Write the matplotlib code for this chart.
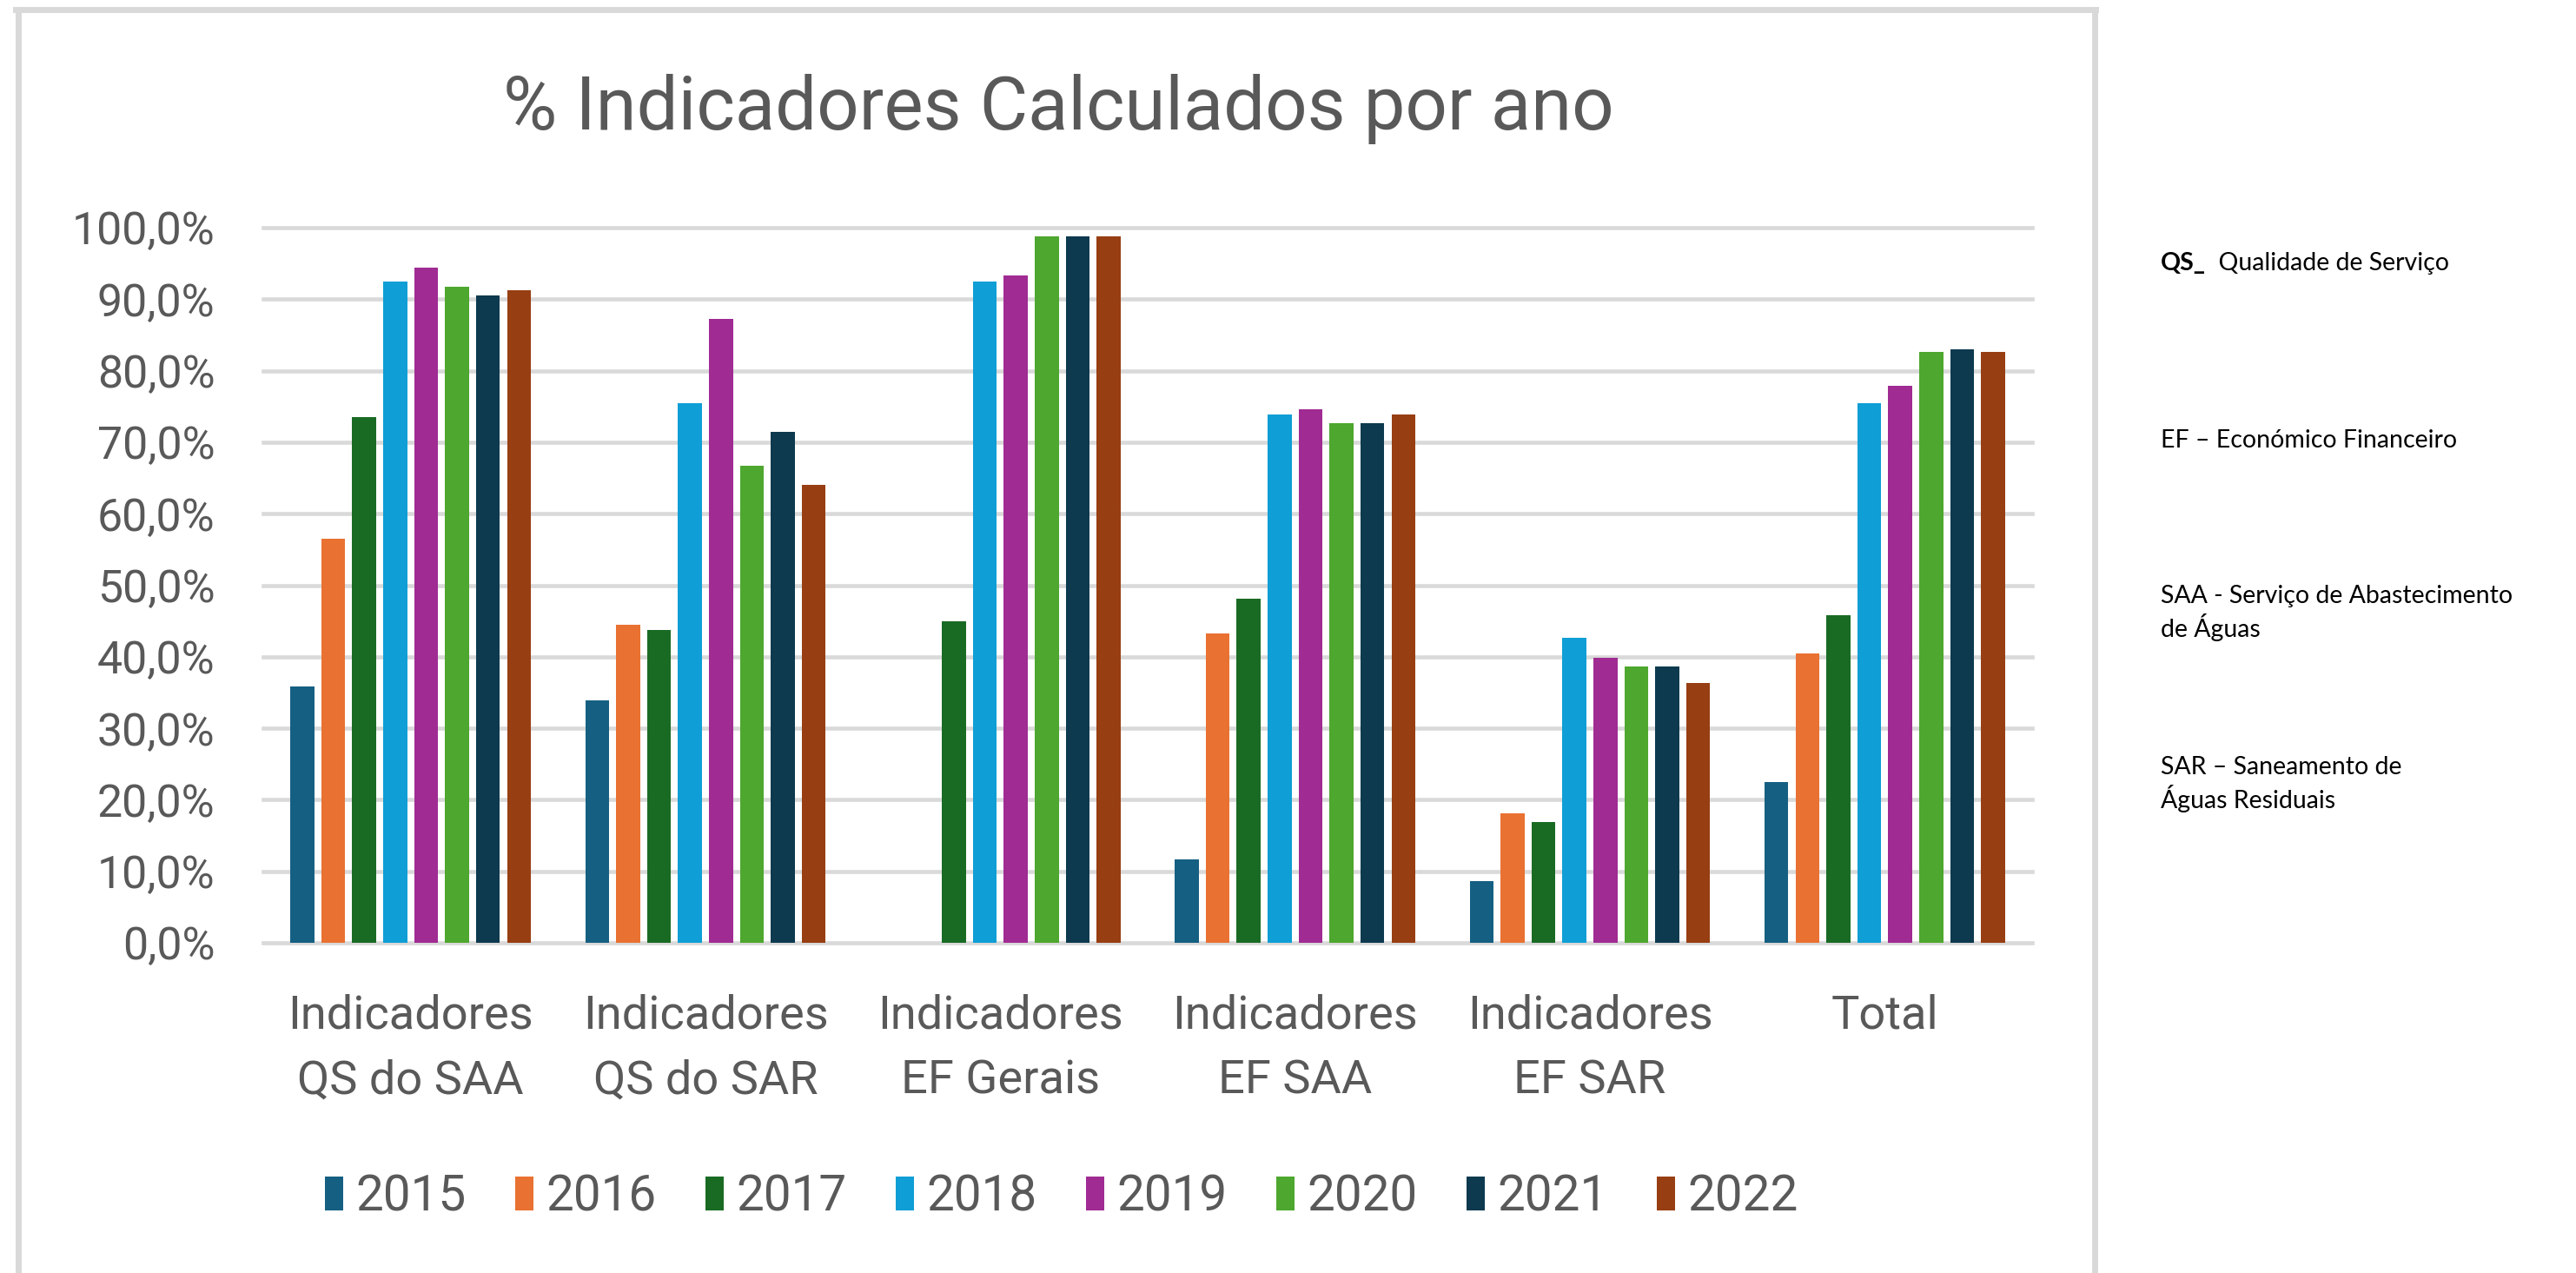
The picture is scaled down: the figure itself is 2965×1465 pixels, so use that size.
import matplotlib
matplotlib.use('Agg')
import matplotlib.pyplot as plt
from matplotlib import font_manager
from matplotlib.patches import Patch
from matplotlib.lines import Line2D
from matplotlib.ticker import FuncFormatter
import numpy as np

categories = ['Indicadores\nQS do SAA', 'Indicadores\nQS do SAR', 'Indicadores\nEF Gerais',
              'Indicadores\nEF SAA', 'Indicadores\nEF SAR', 'Total']
years = ['2015', '2016', '2017', '2018', '2019', '2020', '2021', '2022']

v2015 = [35.8, 33.9, 0.0, 11.7, 8.6, 22.5]
v2016 = [56.5, 44.5, 0.0, 43.3, 18.1, 40.5]
v2017 = [73.5, 43.7, 44.9, 48.1, 16.9, 45.8]
v2018 = [92.5, 75.5, 92.5, 73.9, 42.6, 75.5]
v2019 = [94.4, 87.3, 93.3, 74.6, 39.8, 77.9]
v2020 = [91.7, 66.7, 98.8, 72.7, 38.6, 82.6]
v2021 = [90.5, 71.4, 98.8, 72.7, 38.6, 83.0]
v2022 = [91.3, 64.0, 98.8, 73.9, 36.3, 82.6]
series = [v2015, v2016, v2017, v2018, v2019, v2020, v2021, v2022]

colors = ['#156082', '#E97132', '#196B24', '#0F9ED5', '#A02B93', '#4EA72E', '#0D3A4F', '#973E12']

notes = [
    (303, [('QS_', 'bold'), ('  Qualidade de Serviço', 'normal')]),
    (507, [('EF – Económico Financeiro', 'normal')]),
    (686, [('SAA - Serviço de Abastecimento', 'normal')]),
    (722, [('de Águas', 'normal')]),
    (883, [('SAR – Saneamento de', 'normal')]),
    (919, [('Águas Residuais', 'normal')]),
]

available = {f.name for f in font_manager.fontManager.ttflist}
if 'Liberation Sans Narrow' in available:
    main_font = 'Liberation Sans Narrow'
    k = 1.0
else:
    main_font = 'Roboto'
    k = 0.85
txt_color = '#595959'
grid_color = '#D9D9D9'

W, H = 2965, 1465
fig = plt.figure(figsize=(W / 100, H / 100), dpi=100)
ax = fig.add_axes([303 / W, 1 - 1085 / H, (2339 - 303) / W, (1085 - 262) / H])

x = np.arange(len(categories))
pitch = 0.105
width = 0.081
for i, (vals, col) in enumerate(zip(series, colors)):
    ax.bar(x + (i - 3.5) * pitch, vals, width, color=col, linewidth=0, label=years[i], zorder=3)

ax.set_xlim(-0.5, len(categories) - 0.5)
ax.set_ylim(0, 100)
ax.set_yticks(np.arange(0, 101, 10))
ax.yaxis.set_major_formatter(FuncFormatter(lambda v, p: ('%.1f%%' % v).replace('.', ',')))
ax.grid(axis='y', color=grid_color, linewidth=3.3, zorder=0)
for gl in ax.get_ygridlines():
    gl.set_clip_on(False)
for s in ax.spines.values():
    s.set_visible(False)
ax.tick_params(axis='both', length=0, colors=txt_color)
ax.tick_params(axis='y', pad=40, labelsize=44 * k)
ax.tick_params(axis='x', pad=42, labelsize=46 * k)
ax.set_xticks(x)
ax.set_xticklabels(categories, linespacing=1.6)
for lab in ax.get_xticklabels() + ax.get_yticklabels():
    lab.set_fontfamily(main_font)
    lab.set_color(txt_color)

fig.text(1218 / W, 1 - 126 / H, '% Indicadores Calculados por ano', ha='center', va='center',
         fontsize=72 * k, color=txt_color, family=main_font)

handles = [Patch(facecolor=c, edgecolor='none', label=y) for c, y in zip(colors, years)]
fig.legend(handles=handles, loc='center', bbox_to_anchor=(1222 / W, 1 - 1378 / H), ncol=8,
           frameon=False, handlelength=0.37, handleheight=0.68, handletextpad=0.25,
           columnspacing=1.0, prop={'family': main_font, 'size': 48 * k}, labelcolor=txt_color)

# chart frame
fig.add_artist(Line2D([18 / W, 2412 / W], [1 - 11 / H, 1 - 11 / H], color=grid_color, lw=5))
fig.add_artist(Line2D([21 / W, 21 / W], [1 - 11 / H, 0], color=grid_color, lw=5))
fig.add_artist(Line2D([2411 / W, 2411 / W], [1 - 11 / H, 0], color=grid_color, lw=5))

# side notes, pieces written one after another on the same line
renderer = fig.canvas.get_renderer()
for ypix, parts in notes:
    xpos = 2487 / W
    for s, w in parts:
        t = fig.text(xpos, 1 - ypix / H, s, ha='left', va='center', fontsize=20.5,
                     family='Lato', fontweight=w, color='black')
        bb = t.get_window_extent(renderer=renderer)
        xpos = bb.x1 / W

fig.savefig('out.png', dpi=100, facecolor='white')
